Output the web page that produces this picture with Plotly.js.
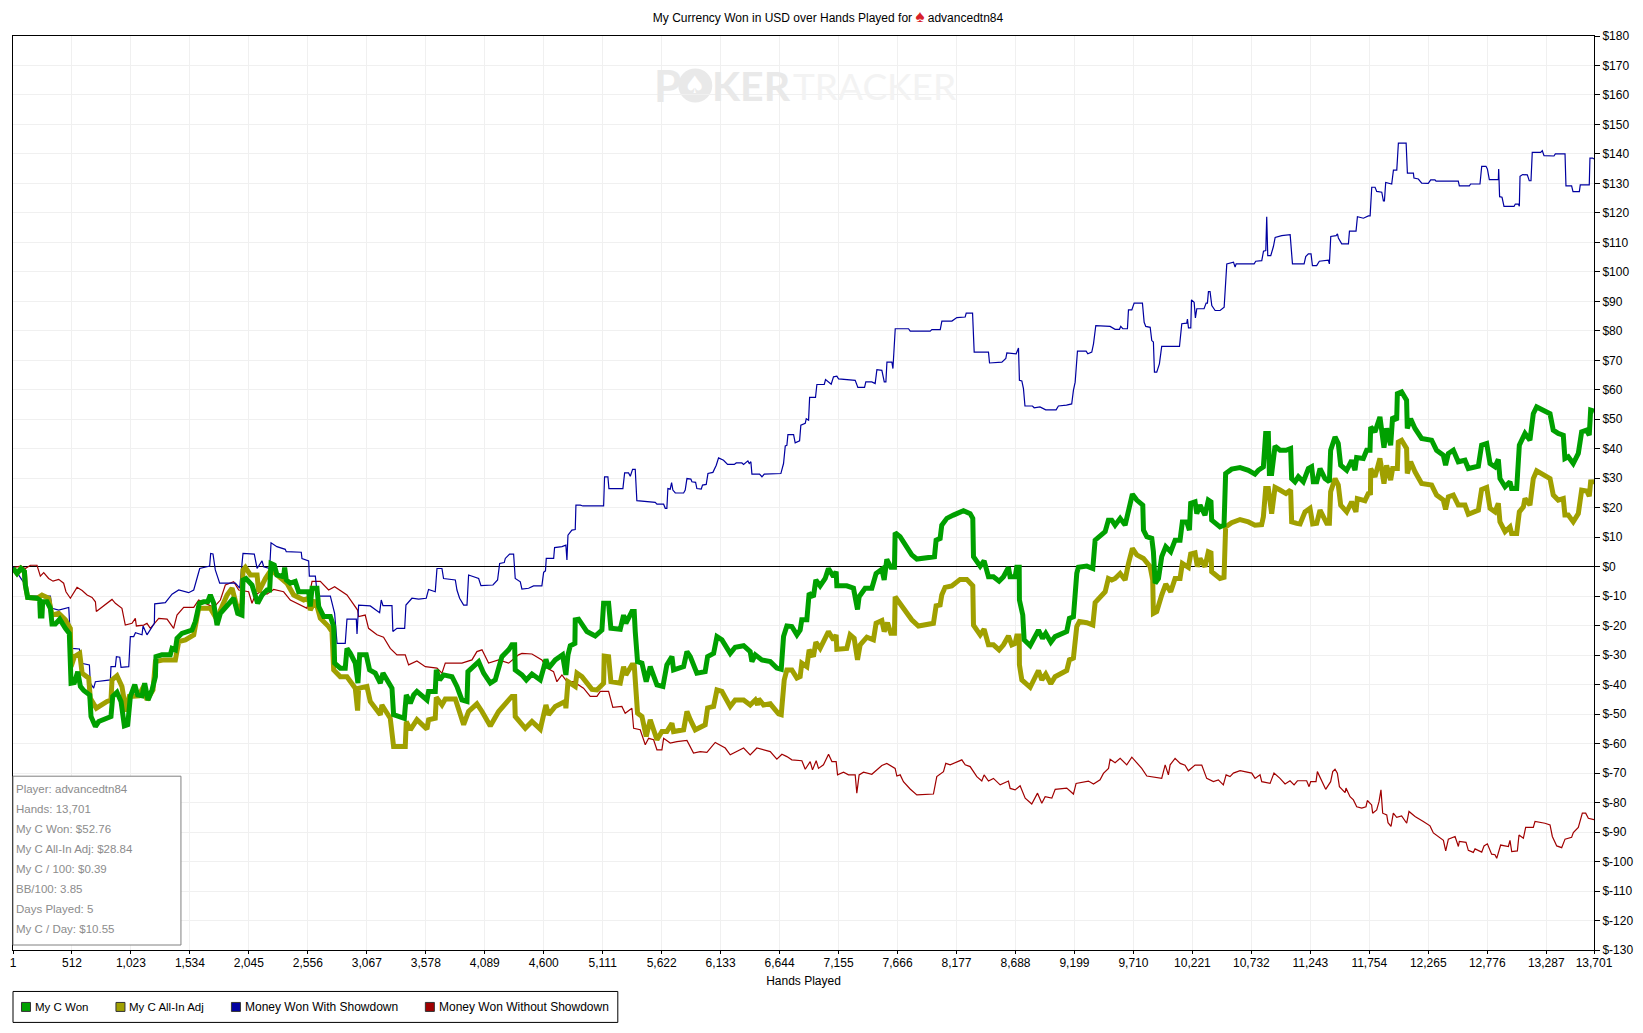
<!DOCTYPE html>
<html><head><meta charset="utf-8">
<script src="https://cdn.plot.ly/plotly-3.0.1.min.js"></script>
<style>html,body{margin:0;padding:0;background:#fff}#c{width:1643px;height:1033px}</style>
</head><body><div id="c"></div>
<script>
const seriesNames=["My C Won","My C All-In Adj","Money Won With Showdown","Money Won Without Showdown"];
const statLines=["Player: advancedtn84","Hands: 13,701","My C Won: $52.76","My C All-In Adj: $28.84","My C / 100: $0.39","BB/100: 3.85","Days Played: 5","My C / Day: $10.55"];
const xTickVals=[1,512,1023,1534,2045,2556,3067,3578,4089,4600,5111,5622,6133,6644,7155,7666,8177,8688,9199,9710,10221,10732,11243,11754,12265,12776,13287,13701];
const yTickVals=[180,170,160,150,140,130,120,110,100,90,80,70,60,50,40,30,20,10,0,-10,-20,-30,-40,-50,-60,-70,-80,-90,-100,-110,-120,-130];

const wonHands=[1,36,70,100,108,128,209,232,238,252,258,296,325,339,368,406,455,489,504,533,562,585,614,666,677,715,744,816,850,865,902,937,966,995,1018,1056,1081,1119,1142,1171,1206,1235,1240,1292,1364,1379,1408,1422,1465,1552,1581,1616,1653,1688,1711,1740,1769,1798,1870,1913,1948,1985,1994,2020,2072,2121,2159,2202,2225,2237,2265,2288,2346,2355,2369,2404,2447,2476,2563,2577,2592,2635,2650,2693,2751,2780,2788,2837,2880,2895,2924,2967,2990,3005,3062,3091,3140,3184,3207,3285,3299,3392,3409,3444,3473,3501,3588,3602,3660,3669,3698,3732,3805,3848,3891,3935,3943,4007,4036,4079,4137,4180,4218,4238,4296,4324,4348,4353,4411,4449,4498,4570,4599,4619,4642,4700,4763,4792,4810,4830,4870,4873,4902,4974,5046,5104,5119,5162,5182,5263,5292,5312,5364,5384,5393,5413,5451,5488,5523,5581,5633,5667,5711,5725,5812,5841,5870,5927,5999,6020,6072,6101,6144,6216,6259,6332,6389,6404,6433,6490,6563,6620,6658,6678,6707,6750,6794,6822,6836,6880,6900,6937,6958,6995,7039,7067,7111,7134,7140,7226,7284,7319,7333,7385,7443,7480,7530,7550,7573,7608,7639,7645,7688,7746,7789,7833,7905,7986,8000,8035,8049,8093,8150,8237,8295,8318,8324,8382,8416,8454,8497,8546,8584,8627,8641,8685,8699,8720,8722,8751,8763,8815,8887,8922,8950,8994,9031,9132,9155,9190,9219,9233,9306,9358,9378,9421,9465,9493,9522,9551,9595,9638,9667,9701,9739,9791,9797,9826,9869,9883,9898,9927,9955,9990,10033,10071,10114,10134,10172,10195,10206,10244,10259,10287,10330,10359,10382,10388,10460,10495,10509,10561,10634,10706,10763,10792,10836,10856,10879,10888,10908,10937,10980,11032,11072,11081,11110,11139,11182,11226,11254,11269,11298,11327,11370,11408,11419,11457,11485,11506,11558,11601,11630,11644,11702,11731,11760,11766,11803,11846,11881,11904,11939,11956,11991,11997,12034,12077,12083,12112,12150,12207,12294,12337,12395,12415,12439,12482,12525,12583,12612,12699,12727,12771,12800,12843,12872,12886,12930,12973,12987,13031,13054,13103,13146,13175,13204,13262,13320,13348,13391,13435,13449,13478,13521,13565,13594,13637,13660,13672,13701];
const myCWon=[-0.5,-2.3,-0.6,-1.7,-6.2,-10.4,-10.7,-11.3,-16.7,-16.7,-11.9,-11.9,-14.1,-19.4,-19.4,-17.8,-20.9,-22.6,-39.5,-39.3,-35.6,-40.6,-42,-43.5,-50.8,-54.2,-52.5,-51.4,-50.8,-44,-42.6,-45.7,-54,-53.6,-44,-40,-43.5,-43.8,-39.5,-45.2,-41.8,-37.3,-30.5,-29.9,-29.9,-27.7,-28.2,-24.3,-22.6,-21.5,-18.6,-12.4,-11.9,-11.9,-9.6,-12.4,-19.8,-15.8,-12.4,-10.7,-15.8,-16.4,-4.5,-4,-6.2,-12.4,-9.6,-7.9,-7.9,1.1,0.6,-2.8,-3.4,-0.3,-4.5,-5.6,-5,-8.5,-8.5,-13.5,-7.3,-7.3,-13.5,-16.9,-16.9,-20.3,-32.7,-34.4,-34.4,-27.7,-29.4,-32.7,-39.5,-29.9,-29.9,-35,-36.1,-39.5,-36.1,-41.2,-50.2,-51.4,-43.5,-46.3,-43.5,-42.3,-45.2,-42.3,-42.3,-35,-38.4,-36.7,-37.3,-40.6,-45.2,-45.7,-35.6,-33.3,-32.2,-36.1,-39.5,-38.4,-33.3,-30.5,-28.2,-26.5,-26.5,-35,-36.7,-38.4,-36.4,-38.4,-34.4,-31.4,-34.4,-31.6,-29.9,-36.7,-29.9,-26.8,-26,-18,-17.8,-22,-23.5,-21.5,-12.4,-12.4,-20.9,-21.2,-16.4,-19.2,-15.2,-15.2,-22,-32.2,-32.7,-39,-33.9,-40.1,-40.6,-33.3,-30.5,-35,-33.9,-28.8,-30.5,-36.1,-35.6,-30.5,-29.4,-23.7,-24.8,-29.4,-27.3,-26.8,-28.8,-32.2,-29.9,-31.6,-32.2,-34.4,-34.8,-23.7,-20.1,-20.3,-23.1,-21.5,-18,-18,-9,-10.2,-4.5,-6.5,-4,-0.6,-3.4,-1.7,-6.5,-6.5,-7.3,-14.5,-10.2,-7.3,-7.3,-2.3,-0.9,-4.5,2.5,-0.2,-0.2,11.5,10.2,6.8,4,2.6,2.8,3.4,9,9.6,14.1,16.4,17.5,19,18,16.4,3.4,0.2,2,-3.4,-3.4,-4.9,-3.4,-0.2,-3.4,-3.4,-0.2,-0.2,-11.3,-16.4,-24.8,-26.8,-21.5,-24.3,-22.6,-25.6,-23.7,-22,-17.5,-17,-2.3,-0.2,0.2,-0.6,9,10.2,11.9,15.8,15.8,14.1,16.4,14.1,19.8,24.6,22.6,20.9,12.4,10.2,9.6,5.1,-5.6,-4,3.4,6.8,5.1,9,9,15.2,15.2,12.4,21.5,22,18,20.9,17.5,22.6,22,15.8,13.5,14.1,31.6,33.1,33.6,32.7,31.4,32.7,33.9,45.2,45.2,31.6,31.6,40.9,39.5,39.5,40.1,29.9,28.8,30.5,28.8,33.3,33.9,28.8,28.8,33.3,29.9,28.8,39.5,44,41.8,34.4,32.7,36.1,32.7,37,36.7,39.5,39.5,47.4,45.7,50.8,40.4,46.9,41.2,50.8,49.7,58.7,59.3,56.5,46.9,50.2,46.9,43.5,42.9,39.5,37.8,34.4,38.4,39.5,35.6,36.1,33.3,34.1,41.2,41.8,35,33.9,36.4,29.9,27.1,28.8,26.5,26.5,41.2,45.2,42.9,51.9,54.2,53.1,51.9,46.3,45.2,44.6,36.7,37.3,35,38.4,45.7,46.3,44.6,53.1,52.76];

const adjHands=[1,36,70,100,108,128,209,252,310,339,397,455,498,504,533,579,600,657,671,723,816,850,859,902,945,980,1009,1090,1133,1162,1214,1235,1307,1408,1437,1495,1567,1610,1711,1769,1798,1856,1899,1957,1985,1994,2014,2058,2116,2130,2188,2237,2288,2375,2433,2520,2563,2577,2621,2664,2736,2765,2780,2837,2895,2967,2987,2996,3068,3097,3184,3198,3270,3293,3299,3400,3409,3444,3501,3588,3602,3660,3669,3718,3747,3834,3877,3906,3949,4021,4065,4137,4209,4324,4348,4353,4440,4498,4570,4599,4619,4642,4700,4787,4792,4810,4873,4888,4931,5018,5061,5119,5124,5162,5182,5263,5292,5312,5364,5384,5402,5413,5451,5488,5523,5581,5624,5667,5711,5725,5812,5841,5870,5913,5999,6020,6072,6101,6144,6216,6259,6332,6389,6433,6453,6462,6505,6563,6635,6658,6684,6707,6750,6794,6822,6836,6880,6900,6937,6958,6995,7067,7111,7134,7140,7226,7255,7290,7319,7342,7400,7457,7480,7530,7550,7579,7608,7639,7645,7688,7746,7789,7847,7977,8000,8035,8049,8078,8136,8208,8266,8318,8324,8382,8416,8454,8497,8546,8584,8627,8656,8685,8699,8720,8722,8743,8815,8887,8916,8950,8994,9031,9132,9155,9190,9219,9242,9306,9358,9378,9465,9493,9522,9551,9595,9638,9667,9701,9739,9797,9855,9877,9883,9912,9955,9990,10033,10071,10114,10134,10186,10206,10244,10264,10287,10330,10359,10382,10388,10460,10495,10509,10561,10634,10706,10763,10821,10836,10856,10879,10908,10937,10980,11032,11072,11081,11125,11154,11197,11240,11263,11298,11327,11385,11408,11419,11457,11485,11506,11558,11601,11638,11650,11716,11745,11764,11766,11803,11846,11881,11904,11939,11956,11997,12005,12034,12077,12083,12112,12150,12207,12294,12337,12395,12415,12439,12482,12525,12583,12612,12699,12727,12771,12800,12843,12872,12886,12930,12973,12987,13031,13054,13089,13103,13146,13175,13204,13262,13320,13348,13391,13435,13449,13478,13521,13565,13594,13637,13660,13672,13701];
const myCAdj=[-0.5,-2.3,-0.6,-1.7,-6.2,-10.4,-10.7,-9.6,-10.7,-16.4,-15.8,-18,-20.9,-33.9,-30.5,-29.4,-36.1,-37.8,-44.6,-48,-45.7,-45.2,-38.4,-37,-40.6,-49.1,-44,-43.8,-40.6,-45.2,-41.8,-32.2,-31.6,-31.6,-25.4,-24.8,-23.1,-14.1,-14.1,-18,-14.7,-9.6,-7.3,-15.8,-12.4,-1.1,-0.2,-2.8,-2.8,-8.5,-4,-1.1,-2.8,-5.6,-9.6,-11.3,-10.7,-14.7,-11.3,-17.5,-20.3,-22,-35,-37.3,-37.3,-41.2,-48.8,-41.2,-40.6,-45.7,-50.2,-46.9,-51.4,-58.7,-61,-61,-52.5,-55.3,-51.9,-55.1,-51.9,-51.4,-44.3,-46.9,-44.9,-44.9,-49.7,-53.6,-49.1,-46.5,-49.1,-54,-49.1,-44,-44,-50.8,-54.8,-52.5,-55.1,-50.2,-46.9,-50.2,-47.4,-45.7,-48,-39,-40.6,-36.1,-37.3,-41.6,-41.8,-39.5,-30.3,-30.5,-39,-39.5,-33.9,-36.7,-33.3,-33.3,-41.8,-49.7,-50.8,-57.6,-51.9,-58.7,-55.9,-55.9,-53.1,-55.9,-55.3,-49.1,-51.9,-55.3,-53.6,-47.9,-47.4,-41.8,-42.3,-47.4,-45.2,-45.2,-46.9,-45.2,-46.9,-44.8,-46.9,-46.5,-49.9,-50.2,-38.4,-35,-35,-37.8,-37.3,-32.7,-33.9,-28.2,-30.5,-25.6,-27.7,-22,-24.8,-23.1,-28,-27.7,-23.1,-24.3,-31.6,-26.5,-23.9,-24.8,-19.2,-18.3,-22,-19,-22.6,-22.6,-10.2,-12.4,-15.2,-18,-20.1,-19.2,-13.3,-13,-9.6,-7,-6.5,-4.3,-4.3,-6.5,-19.8,-23.1,-21.2,-26.5,-26.5,-28.2,-26.5,-23.5,-26.5,-26,-23.5,-23.5,-33.3,-38.4,-40.9,-35.2,-38.4,-36.4,-39.7,-37.3,-35.2,-31.6,-31,-20.3,-18.6,-19,-19.8,-12.2,-8.5,-4,-4.5,-4,-2.3,-4.5,1.1,6.2,4,2.8,0,-4.5,-15.8,-15.2,-9.6,-5.9,-8.5,-4,-4,1.1,-0.2,4.3,4.7,0,2.8,0,5.1,4.7,-1.7,-4,-3.6,13.5,14.9,16,15.2,14.1,14.3,16.9,26.5,26.5,18,26.9,26,24.8,26,15.2,14.7,14.5,18.6,19.8,14.5,14.7,19.2,14.7,14.7,25.4,29.9,27.7,20.9,18.6,22,18.6,23.1,22.4,24.8,25,33.3,30.5,36.7,28.2,34.4,29.4,33.3,33.3,42.3,42.9,40.1,31.6,35.6,32.2,28.2,27.7,24.3,22.6,19.4,23.7,24.3,20.9,20.9,17.8,19.2,26.2,26.9,19.8,18.6,21.5,15.2,11.9,13.5,11.3,11.3,18.6,20.3,23.1,20.9,29.9,32.5,31.4,29.9,24.3,22.6,23.1,17.5,17.5,15.2,18,26,25.7,23.9,28.8,28.84];

const sdHands=[1,108,128,325,339,397,484,493,513,577,585,663,671,700,715,845,850,888,897,926,937,1004,1018,1047,1062,1119,1128,1162,1226,1229,1321,1379,1437,1523,1567,1619,1705,1714,1734,1754,1792,1928,1965,1994,2092,2116,2159,2173,2225,2237,2288,2360,2369,2499,2505,2563,2569,2621,2635,2658,2751,2788,2809,2880,2895,2976,2982,2996,3097,3140,3178,3192,3207,3285,3293,3328,3395,3406,3458,3516,3582,3602,3660,3675,3718,3732,3834,3848,3871,3906,3935,3949,4036,4056,4160,4200,4218,4258,4267,4304,4339,4353,4397,4411,4469,4512,4584,4599,4615,4622,4686,4694,4758,4792,4801,4810,4844,4873,4879,4917,4940,5119,5127,5156,5165,5286,5301,5335,5350,5370,5393,5407,5566,5581,5639,5653,5667,5676,5696,5708,5719,5740,5812,5826,5841,5875,5884,5916,5927,5965,5976,6008,6023,6066,6095,6115,6158,6193,6251,6268,6317,6332,6369,6381,6395,6404,6470,6491,6511,6655,6678,6693,6707,6716,6765,6779,6817,6828,6866,6875,6895,6904,6955,6967,7031,7042,7091,7111,7140,7155,7299,7322,7380,7391,7443,7472,7487,7530,7551,7565,7574,7617,7626,7646,7761,7776,7949,7963,8036,8050,8137,8180,8252,8261,8316,8330,8454,8463,8570,8604,8613,8694,8714,8722,8743,8757,8770,8835,8850,8900,8950,9040,9060,9130,9175,9190,9205,9225,9300,9315,9349,9364,9384,9508,9551,9589,9600,9618,9658,9667,9696,9716,9788,9803,9817,9855,9869,9883,9892,9912,9935,9955,10109,10129,10172,10178,10187,10207,10213,10236,10247,10259,10322,10340,10351,10360,10374,10389,10418,10461,10496,10519,10577,10591,10600,10756,10770,10822,10837,10857,10865,10874,10900,10923,10938,10995,11068,11088,11189,11203,11226,11249,11261,11298,11321,11399,11408,11420,11466,11478,11486,11515,11573,11582,11639,11651,11703,11746,11761,11775,11804,11818,11862,11876,11885,11896,11948,11963,11992,12006,12073,12084,12136,12141,12179,12208,12265,12286,12323,12332,12525,12534,12621,12632,12713,12728,12765,12777,12794,12872,12875,12883,12904,12921,13008,13019,13045,13054,13060,13083,13123,13140,13155,13166,13239,13253,13268,13354,13366,13450,13458,13507,13519,13574,13582,13660,13666,13689,13701];
const wonSd=[0,-6.2,-10,-10,-14.1,-14.7,-13.8,-20.3,-27.7,-27.9,-32.7,-33.3,-39.5,-41.2,-39,-38.4,-33.9,-33.9,-30.5,-30.7,-34.1,-33.9,-23.7,-23.7,-22.4,-23.1,-20.1,-23.1,-19.2,-12.6,-12.2,-9.3,-7.9,-8.8,-7.9,-0.6,0.2,4.5,4.3,-1.1,-5.6,-5.6,-7.3,4.5,4.3,-0.6,2,0,-0.6,8.1,6.8,5.9,5.1,4.9,2.8,2,-3.2,-3.2,-8.5,-10,-10,-15.8,-26,-26,-17.8,-17.8,-22.8,-13,-13.3,-14.5,-15.6,-11.3,-13.2,-13.2,-22,-20.9,-20.9,-13,-10.7,-11,-10.7,-7.7,-8.5,-0.6,-0.6,-4,-4.5,-7.9,-10.7,-13,-13,-2.8,-4,-6.4,-6.2,-4.5,1.1,1.4,2.8,4.3,4.3,-4,-5.1,-7.6,-7.3,-6.5,-6.5,-1.9,-1.4,2.8,2.8,6.5,6.8,7.3,2.3,10.7,12.4,12.6,20.9,20.9,20.6,20.6,30.5,30.5,26.5,26.5,31.8,31.8,30.7,33,33,22.4,21.8,21.2,21.2,19.8,19.8,26.5,26.3,28.5,26,25,25,26,29.9,29.7,28.8,28.6,26.5,26.3,27.7,27.9,31.6,32,34.4,36.9,36.1,34.7,34.7,35.2,35.2,34.7,35.9,35,35.6,31.4,31.4,30.5,31.4,31.6,35,41,41.2,44.8,44.8,42,42.7,48,48.6,50.2,49.7,57.4,57.4,61.8,61.8,63.5,61.9,64.4,64.6,63.7,63.2,60.8,60.8,62.7,62.7,62.1,66.8,66.6,62.7,62.7,69.4,69.4,67.2,80.7,80.7,79.9,79.9,80.4,80.4,83.3,83.3,84.5,84.7,86,86,72.8,72.8,69.1,69.4,70.6,72.5,72.2,74.2,63.2,63,60.4,54.5,54.5,53.9,54.2,53.2,53.2,54.5,54.8,55.2,59.8,62.6,73.1,73.1,72.2,72.8,75.6,81.8,81.5,80.5,80.5,81.5,80.7,80.7,87.1,87.1,89.4,89.4,82.9,81.5,81.2,76.7,76.2,66,66,68.8,74.7,74.7,82.4,82.6,84,81,81,90.5,89.7,84.4,87.5,87.5,89.4,89.4,93.3,93.3,88.6,86.9,86.9,88,102.7,103.3,101.6,102.7,102.7,103.6,103.8,107,107.2,118.7,105.5,105.5,108.6,111.7,112.3,112.6,102.7,102.7,105.2,106.1,106.1,102.1,102.1,103.6,104,102.7,112,112.3,112.9,111.5,109.5,109.5,113.8,113.8,118.7,118.2,119,119,128.7,128.7,127.3,127,124.1,124.1,130.3,129.8,134.5,134.5,143.7,143.7,133.5,133.5,131.8,131.5,130.1,130,131.2,131.2,130.8,130.8,129.2,129.2,129.8,129.8,135.8,135.8,134.9,131.3,131.3,134.9,125.5,125.3,122.2,122.2,123,123,122.3,132.4,133,132.9,130.9,130.9,140.5,140.5,141.1,139.4,139.3,140,140,129.2,129.2,127.2,127.2,129.5,129.5,138.6,138.6,138.3];

const noSdHands=[1,66,108,152,209,238,267,310,348,397,440,460,498,556,600,643,686,715,723,758,801,859,888,945,974,1032,1061,1070,1134,1162,1191,1264,1336,1393,1422,1480,1567,1610,1740,1798,1841,1913,1957,2043,2072,2101,2145,2202,2260,2346,2404,2462,2549,2592,2664,2736,2788,2895,2953,2987,2996,3053,3082,3155,3212,3270,3328,3400,3429,3501,3574,3675,3718,3747,3891,3978,4021,4065,4122,4209,4296,4382,4411,4498,4584,4628,4685,4714,4758,4801,4859,4945,5003,5061,5090,5162,5199,5277,5306,5364,5379,5436,5480,5509,5552,5581,5624,5639,5696,5754,5841,5898,5956,6014,6086,6173,6216,6332,6389,6447,6563,6620,6664,6707,6750,6837,6866,6909,6929,6961,6981,7024,7068,7097,7134,7146,7198,7241,7299,7313,7333,7371,7443,7487,7530,7573,7645,7660,7689,7717,7775,7833,7977,8006,8064,8084,8122,8223,8252,8295,8353,8396,8416,8454,8497,8555,8627,8642,8685,8728,8772,8829,8879,8916,8945,9003,9032,9132,9190,9213,9320,9364,9421,9450,9494,9508,9551,9595,9652,9696,9782,9826,9955,9985,10013,10028,10071,10115,10157,10186,10244,10302,10345,10403,10446,10489,10513,10547,10576,10634,10735,10764,10807,10822,10894,10928,10980,11024,11067,11102,11131,11211,11232,11246,11292,11304,11341,11376,11419,11437,11457,11477,11495,11544,11552,11587,11616,11645,11688,11725,11737,11774,11783,11818,11838,11855,11870,11905,11916,11942,11962,11991,12034,12078,12098,12150,12222,12280,12309,12396,12416,12439,12497,12526,12534,12592,12612,12655,12670,12728,12748,12777,12814,12843,12858,12892,12959,12973,12988,13037,13051,13089,13109,13175,13190,13276,13320,13340,13378,13421,13450,13507,13522,13565,13600,13629,13652,13701];
const wonNoSd=[-0.3,0.2,-0.6,0.5,0.5,-3.2,-2,-4,-4.9,-4.3,-5.6,-8.5,-10.7,-7,-8.1,-9.6,-10.4,-11.9,-15.2,-14.1,-13,-11.1,-12.4,-14.1,-19.8,-19.2,-17.5,-20.1,-19.8,-19.2,-20.9,-17.5,-17.8,-20.9,-16.4,-13.8,-13.8,-11.3,-13.8,-11.3,-6.2,-5.1,-7.9,-8.5,-12.4,-9.6,-8.5,-9.3,-7.7,-8.5,-11.3,-12.4,-14.1,-5,-5,-7.9,-6.8,-9.6,-13,-14.7,-16.9,-16.4,-20.9,-23.1,-23.9,-27.7,-29.9,-29.9,-33.3,-32,-33.9,-34.4,-36.1,-32.7,-32.7,-31.6,-28.8,-28.2,-32.7,-31.6,-32.7,-29.9,-29.4,-29.6,-31.6,-34.4,-35.6,-39,-36.7,-39,-39,-41.2,-44,-44,-42.3,-42.3,-47.7,-47.4,-49.7,-48,-54.8,-55.3,-60.4,-58.2,-58.7,-62.1,-62.1,-58.2,-59.8,-59.3,-58.9,-63.2,-62.7,-63,-59.6,-61.5,-63.8,-61.5,-63.8,-61.5,-62.7,-65.3,-63.6,-64.4,-65.5,-65.8,-68.7,-66.1,-68.9,-65.8,-68.4,-67.2,-63.6,-66.1,-66.1,-70.6,-69.7,-70.6,-70.6,-76.8,-70.6,-69.7,-70.4,-68.9,-67.4,-66.7,-68.4,-71,-70.6,-72.9,-75.4,-77.4,-77.1,-71.2,-69.5,-66.7,-67.2,-65.5,-67.2,-67.8,-71.2,-72.7,-70.6,-72.7,-71.8,-74,-72.7,-75.2,-75.7,-74.3,-78.5,-80.5,-76.8,-80.2,-78,-78.5,-75.5,-75.1,-77.1,-73.5,-72.7,-73.7,-72.3,-70.1,-68.4,-65.3,-66.5,-65,-67.2,-64.6,-68.4,-71,-71.8,-67.2,-70.6,-67.2,-65,-66.7,-67.3,-69.2,-67.3,-67.3,-71.8,-72.9,-72.3,-74,-70.6,-71.2,-70,-69.2,-70,-71.8,-70.6,-72.9,-73.5,-70,-71.8,-73.7,-72.6,-74,-72.6,-72.6,-74.6,-72.9,-72.9,-69.5,-72.9,-75.5,-72.9,-69.5,-68.7,-70,-74.6,-76.6,-75.1,-78,-79.1,-81.4,-81.9,-81.4,-79.3,-80.8,-83.6,-82.5,-79.7,-75.7,-83.6,-84.2,-86.8,-88.1,-83.6,-85,-84.5,-87,-83,-84.7,-86.4,-87.9,-90.3,-92.8,-96.4,-92.4,-91.5,-94.9,-93.2,-93.5,-96.2,-96.9,-95.7,-96.8,-94.7,-94,-97.5,-97.7,-98.9,-94.4,-94.9,-92.8,-96.6,-96.4,-91,-92.1,-88.4,-88.4,-86.4,-87,-87.6,-91.5,-94.7,-95.3,-92.4,-91.8,-90.2,-88.4,-83.6,-83.6,-85.3,-85.8];

const W=1643,H=1033,L=12.5,R=1594,T=35.5,B=950.5;
const fx=p=>(p-L)/(R-L), fy=p=>1-(p-T)/(B-T);
const FONT='"Liberation Sans",Arial,sans-serif';
const colors=["#00a000","#a0a000","#0000a0","#a00000"];
const fmtX=v=>v.toLocaleString('en-US');
const fmtY=v=>v<0?'$-'+(-v):'$'+v;
function tr(x,y,name,color,width){return {type:'scatter',mode:'lines',x,y,name,line:{color,width,shape:'linear'},hoverinfo:'name+x+y'};}
const data=[
 tr(noSdHands,wonNoSd,seriesNames[3],colors[3],1.2),
 tr(sdHands,wonSd,seriesNames[2],colors[2],1.2),
 tr(adjHands,myCAdj,seriesNames[1],colors[1],5),
 tr(wonHands,myCWon,seriesNames[0],colors[0],5)
];
const shapes=[],ann=[];
function txt(text,px,py,size,color,anchor,font){ann.push({xref:'paper',yref:'paper',x:fx(px),y:fy(py),text,showarrow:false,xanchor:anchor||'left',yanchor:'middle',font:{family:font||FONT,size,color},borderpad:0,borderwidth:0});}
function rect(x0,y0,x1,y1,line,fill,lw,layer){shapes.push({type:'rect',xref:'paper',yref:'paper',x0:fx(x0),x1:fx(x1),y0:fy(y1),y1:fy(y0),line:{color:line,width:lw==null?1:lw},fillcolor:fill,layer:layer||'above'});}
// watermark
const WM='Lato,"Liberation Sans",sans-serif';
txt('<b>P</b>',654,85,44,'#e9e9e9','left',WM);
shapes.push({type:'circle',xref:'paper',yref:'paper',x0:fx(678),x1:fx(712),y0:fy(102),y1:fy(68),line:{width:0,color:'#e9e9e9'},fillcolor:'#e9e9e9',layer:'below'});
txt('♠',695,85,24,'#ffffff','center','"DejaVu Sans"');
txt('<b>KER</b>',712,85,41,'#e9e9e9','left',WM);
txt('TRACKER',793,85,37,'#f3f3f3','left',WM);
// stats box
rect(12.5,776.5,180.5,945.5,'#808080','#ffffff',1);
statLines.forEach((s,i)=>txt(s,16,789+i*20,11.5,'#8c8c8c'));
// legend box
rect(12.5,992,617.5,1023,'#000000','#ffffff',1);
const swX=[21,115.5,231,425],lbX=[35,128.5,245,439],lbSize=[11.5,11.5,12,12];
seriesNames.forEach((s,i)=>{
  rect(swX[i],1003,swX[i]+9,1012,'#333333',colors[i],1);
  txt(s,lbX[i],1008,lbSize[i],'#000000');
});
const layout={
 width:W,height:H,autosize:false,showlegend:false,
 paper_bgcolor:'#ffffff',plot_bgcolor:'#ffffff',
 margin:{l:L,r:W-R,t:T,b:H-B,pad:0},
 font:{family:FONT,size:12,color:'#000'},
 title:{text:'My Currency Won in USD over Hands Played for <span style="color:#d8202a;font-size:17px">♠</span> advancedtn84',font:{family:FONT,size:12,color:'#000'},x:828/W,xanchor:'center',xref:'container',y:1-17.5/H,yanchor:'middle'},
 xaxis:{range:[1,13701],tickvals:xTickVals,ticktext:xTickVals.map(fmtX),tickangle:0,ticks:'outside',ticklen:3,ticklabelstandoff:-1,tickcolor:'#000',tickfont:{family:FONT,size:12,color:'#000'},showgrid:true,gridcolor:'#f0f0f0',gridwidth:1,showline:true,linecolor:'#000',linewidth:1,mirror:true,zeroline:false,
   title:{text:'Hands Played',font:{family:FONT,size:12,color:'#000'},standoff:7},automargin:false},
 yaxis:{range:[-130,180],side:'right',tickvals:yTickVals,ticktext:yTickVals.map(fmtY),ticks:'outside',ticklen:5,tickcolor:'#000',tickfont:{family:FONT,size:12,color:'#000'},showgrid:true,gridcolor:'#f0f0f0',gridwidth:1,showline:true,linecolor:'#000',linewidth:1,mirror:true,zeroline:true,zerolinecolor:'#000',zerolinewidth:1,automargin:false},
 shapes,annotations:ann
};
Plotly.newPlot('c',data,layout,{displayModeBar:false,responsive:false});
</script></body></html>
